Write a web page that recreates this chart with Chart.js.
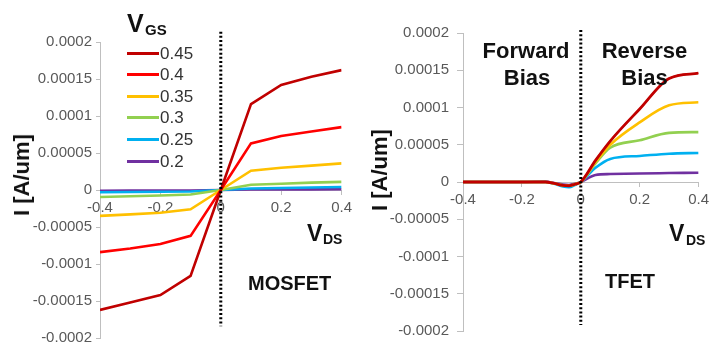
<!DOCTYPE html>
<html>
<head>
<meta charset="utf-8">
<script src="https://cdn.jsdelivr.net/npm/chart.js@4.4.1/dist/chart.umd.min.js"></script>
<style>
  html, body { margin: 0; padding: 0; background: #fff; overflow: hidden; }
  #wrap { position: relative; width: 714px; height: 343px; overflow: hidden; font-family: "Liberation Sans", Arial, sans-serif; }
  canvas { position: absolute; top: 0; }
  .t { position: absolute; white-space: nowrap; color: #111; font-weight: bold; }
  .rot { position: absolute; white-space: nowrap; font-weight: bold; font-size: 22px; line-height: 22px; color: #111; transform: translate(-50%, -50%) rotate(-90deg); }
  .leg { position: absolute; white-space: nowrap; font-size: 17px; line-height: 17px; color: #333; }
  .sw { position: absolute; height: 3px; width: 32px; }
</style>
</head>
<body>
<div id="wrap">
  <canvas id="c1" width="357" height="360" style="left:0;width:357px;height:360px"></canvas>
  <canvas id="c2" width="357" height="360" style="left:357px;width:357px;height:360px"></canvas>
</div>
<script>
// ---------- data ----------
const seriesNames = ['0.45', '0.4', '0.35', '0.3', '0.25', '0.2'];
const seriesColors = ['#C00000', '#FF0000', '#FFC000', '#92D050', '#00B0F0', '#7030A0'];

const mosX = [-0.4, -0.3, -0.2, -0.1, 0, 0.1, 0.2, 0.3, 0.4];
const mos045 = [-1.62e-4, -1.52e-4, -1.42e-4, -1.16e-4, 0, 1.16e-4, 1.42e-4, 1.53e-4, 1.62e-4];
const mos040 = [-8.4e-5, -7.9e-5, -7.3e-5, -6.2e-5, 0, 6.3e-5, 7.3e-5, 7.9e-5, 8.5e-5];
const mos035 = [-3.5e-5, -3.3e-5, -3.07e-5, -2.6e-5, 0, 2.6e-5, 3.0e-5, 3.3e-5, 3.6e-5];
const mos030 = [-9.5e-6, -8.5e-6, -7.5e-6, -6e-6, 0, 7e-6, 8.5e-6, 1.0e-5, 1.1e-5];
const mos025 = [-3e-6, -2.7e-6, -2.4e-6, -2e-6, 0, 2e-6, 2.8e-6, 3.4e-6, 4e-6];
const mos020 = [-1e-6, -0.9e-6, -0.8e-6, -0.6e-6, 0, 0.6e-6, 0.8e-6, 0.9e-6, 1e-6];

const tfetX = [-0.4, -0.3, -0.2, -0.12, -0.09, -0.06, -0.04, -0.02, 0, 0.05, 0.1, 0.2, 0.3, 0.4];
const tfet045 = [0, 0, 0, 0, -2e-6, -4.5e-6, -5e-6, -3e-6, 0, 2.9e-5, 5.5e-5, 9.8e-5, 1.39e-4, 1.46e-4];
const tfet040 = [0, 0, 0, 0, -2e-6, -4.5e-6, -5e-6, -3e-6, 0, 2.9e-5, 5.5e-5, 9.8e-5, 1.39e-4, 1.46e-4];
const tfet035 = [0, 0, 0, 0, -2e-6, -4.5e-6, -5e-6, -3e-6, 0, 2.7e-5, 5.0e-5, 8.0e-5, 1.03e-4, 1.07e-4];
const tfet030 = [0, 0, 0, 0, -2e-6, -4.5e-6, -5e-6, -3e-6, 0, 2.5e-5, 4.6e-5, 5.6e-5, 6.6e-5, 6.7e-5];
const tfet025 = [0, 0, 0, 0, -2.5e-6, -6e-6, -7e-6, -4e-6, 0, 1.9e-5, 3.1e-5, 3.5e-5, 3.8e-5, 3.9e-5];
const tfet020 = [0, 0, 0, 0.5e-6, -1.5e-6, -3.5e-6, -4e-6, -2.5e-6, 0, 9.5e-6, 1.07e-5, 1.15e-5, 1.2e-5, 1.25e-5];

const xTicks = [-0.4, -0.2, 0, 0.2, 0.4];
const xTickLabels = ['-0.4', '-0.2', '0', '0.2', '0.4'];
const yTicks = [-0.0002, -0.00015, -0.0001, -0.00005, 0, 0.00005, 0.0001, 0.00015, 0.0002];
const yTickLabels = ['-0.0002', '-0.00015', '-0.0001', '-0.00005', '0', '0.00005', '0.0001', '0.00015', '0.0002'];

// dotted V=0 divider extents
const mosDivider = [0.000214, -0.000184];
const tfetDivider = [0.000204, -0.000192];

// ---------- build ----------
function pts(xs, ys) { return xs.map((x, i) => ({ x: x, y: ys[i] })); }

function makeChart(id, xs, ysList, divider, area, yTickLen, yTickPad, smooth, widths) {
  const datasets = [{
    data: [{ x: 0, y: divider[0] }, { x: 0, y: divider[1] }],
    borderColor: '#000', borderWidth: 3, borderDash: [2, 2.2], pointRadius: 0, clip: false, tension: 0, order: 0
  }];
  ysList.forEach((ys, i) => {
    datasets.push({
      label: seriesNames[i],
      data: pts(xs, ys),
      borderColor: seriesColors[i],
      borderWidth: widths[i],
      pointRadius: 0,
      tension: 0,
      order: i + 1,
      cubicInterpolationMode: smooth ? 'monotone' : 'default'
    });
  });
  const tickFont = { family: '"Liberation Sans", Arial, sans-serif', size: 15 };
  return new Chart(document.getElementById(id), {
    type: 'line',
    data: { datasets: datasets },
    options: {
      responsive: false,
      animation: false,
      events: [],
      layout: { padding: { left: 0, top: area.top, right: area.right, bottom: area.bottom } },
      plugins: { legend: { display: false }, tooltip: { enabled: false } },
      scales: {
        x: {
          type: 'linear',
          position: { y: 0 },
          min: -0.4, max: 0.4,
          afterBuildTicks: s => { s.ticks = xTicks.map(v => ({ value: v })); },
          ticks: { color: '#595959', font: tickFont, padding: 5, maxRotation: 0, autoSkip: false,
                   callback: (v, i) => xTickLabels[i] },
          grid: { drawOnChartArea: false, drawTicks: true, tickLength: 4, color: '#BFBFBF' },
          border: { display: true, color: '#BFBFBF', width: 1 }
        },
        y: {
          type: 'linear',
          min: -0.0002, max: 0.0002,
          afterBuildTicks: s => { s.ticks = yTicks.map(v => ({ value: v })); },
          afterFit: s => { s.width = area.left; },
          ticks: { color: '#595959', font: tickFont, padding: yTickPad, autoSkip: false,
                   callback: (v, i) => yTickLabels[i] },
          grid: { drawOnChartArea: false, drawTicks: true, tickLength: yTickLen, color: '#BFBFBF' },
          border: { display: true, color: '#BFBFBF', width: 1 }
        }
      }
    }
  });
}

makeChart('c1', mosX, [mos045, mos040, mos035, mos030, mos025, mos020], mosDivider,
  { left: 100, top: 42, right: 14, bottom: 22 }, 4, 4, false, [2.6, 2.6, 2.6, 2.6, 2.6, 2.6]);
makeChart('c2', tfetX, [tfet045, tfet040, tfet035, tfet030, tfet025, tfet020], tfetDivider,
  { left: 106, top: 33, right: 10, bottom: 29 }, 6, 8, true, [2.8, 1.6, 2.6, 2.6, 2.6, 2.6]);

// ---------- text overlays ----------
const wrap = document.getElementById('wrap');
function txt(s, x, baseline, size, opts) {
  opts = opts || {};
  const d = document.createElement('div');
  d.className = 't';
  d.textContent = s;
  d.style.fontSize = size + 'px';
  d.style.lineHeight = size + 'px';
  d.style.top = (baseline - 0.8465 * size) + 'px';
  d.style.left = x + 'px';
  if (opts.center) d.style.transform = 'translateX(-50%)';
  wrap.appendChild(d);
  return d;
}
function rot(s, cx, cy) {
  const d = document.createElement('div');
  d.className = 'rot';
  d.textContent = s;
  d.style.left = cx + 'px';
  d.style.top = cy + 'px';
  wrap.appendChild(d);
}

// axis titles
rot('I [A/um]', 22, 175);
rot('I [A/um]', 380, 170);

// V_GS legend title
txt('V', 127, 32, 25);
txt('GS', 145, 35, 15);

// legend items
seriesNames.forEach((name, i) => {
  const cy = 53 + 21.6 * i;
  const sw = document.createElement('div');
  sw.className = 'sw';
  sw.style.left = '127px';
  sw.style.top = (cy - 1.5) + 'px';
  sw.style.background = seriesColors[i];
  wrap.appendChild(sw);
  const l = document.createElement('div');
  l.className = 'leg';
  l.textContent = name;
  l.style.left = '160px';
  l.style.top = (cy - 0.8465 * 17 + 0.716 * 17 / 2) + 'px';
  wrap.appendChild(l);
});

// V_DS labels
txt('V', 307, 241, 23);
txt('DS', 323, 244, 14);
txt('V', 669, 241, 23);
txt('DS', 686, 245, 14);

// panel names
txt('MOSFET', 248, 290, 20);
txt('TFET', 605, 288, 20);

// bias labels
txt('Forward', 526, 59, 22, { center: true });
txt('Bias', 527, 86, 22, { center: true });
txt('Reverse', 644.5, 59, 22, { center: true });
txt('Bias', 644.5, 86, 22, { center: true });
</script>
</body>
</html>
